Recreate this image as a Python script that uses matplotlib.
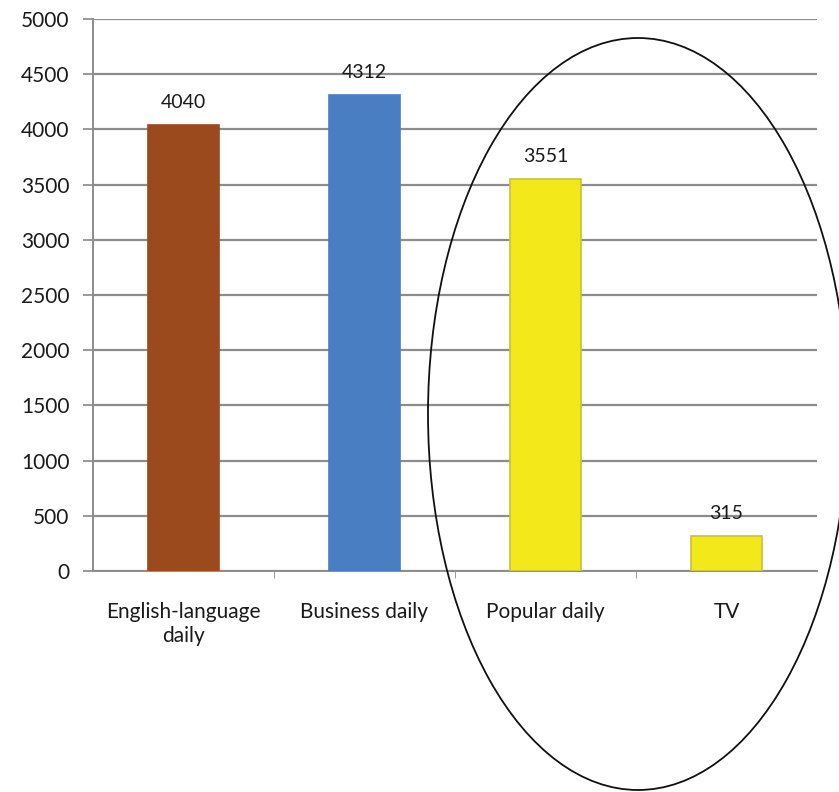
import matplotlib
matplotlib.use("Agg")
import matplotlib.pyplot as plt
from matplotlib.patches import Ellipse

categories = ["English-language\ndaily", "Business daily", "Popular daily", "TV"]
values = [4040, 4312, 3551, 315]
colors = ["#9A4A1C", "#4A7EC2", "#F2E81A", "#F2E81A"]
edges = ["#9A4A1C", "#4A7EC2", "#C9C040", "#C9C040"]
yticks = [0, 500, 1000, 1500, 2000, 2500, 3000, 3500, 4000, 4500, 5000]

plt.rcParams['font.family'] = ['Lato', 'DejaVu Sans']

fig = plt.figure(figsize=(8.39, 7.92), dpi=100)
ax = fig.add_axes([93/839, 1-571/792, (817-93)/839, (571-19)/792])

x = list(range(len(categories)))
ax.bar(x, values, width=0.39, color=colors, edgecolor=edges, linewidth=1.2, zorder=3)
for xi, v in zip(x, values):
    ax.text(xi, v + 130, str(v), ha="center", va="bottom", fontsize=14, color="#1a1a1a", zorder=4)

ax.set_xlim(-0.5, 3.5)
ax.set_ylim(0, 5000)
ax.set_yticks(yticks)
ax.set_yticklabels([str(t) for t in yticks], fontsize=15, color="#1a1a1a")
ax.set_xticks(x)
ax.set_xticklabels(categories, fontsize=15, color="#1a1a1a", linespacing=1.3)
ax.tick_params(axis="x", length=0, pad=22)
ax.tick_params(axis="y", length=7, color="#888888", width=1.2, pad=10)
ax.set_xticks([0.5, 1.5, 2.5], minor=True)
ax.tick_params(axis="x", which="minor", length=5, color="#888888", direction="out")
ax.yaxis.grid(True, color="#8c8c8c", linewidth=1.6, zorder=0)
ax.set_axisbelow(True)
for s in ["top", "right"]:
    ax.spines[s].set_visible(False)
for s in ["left", "bottom"]:
    ax.spines[s].set_color("#8c8c8c")
    ax.spines[s].set_linewidth(1.4)

ell = Ellipse((638/839, 1-414/792), 420/839, 752/792, transform=fig.transFigure,
              fill=False, edgecolor="#111111", linewidth=1.3, zorder=10)
fig.patches.append(ell)

fig.savefig("out.png", dpi=100, facecolor="white")
